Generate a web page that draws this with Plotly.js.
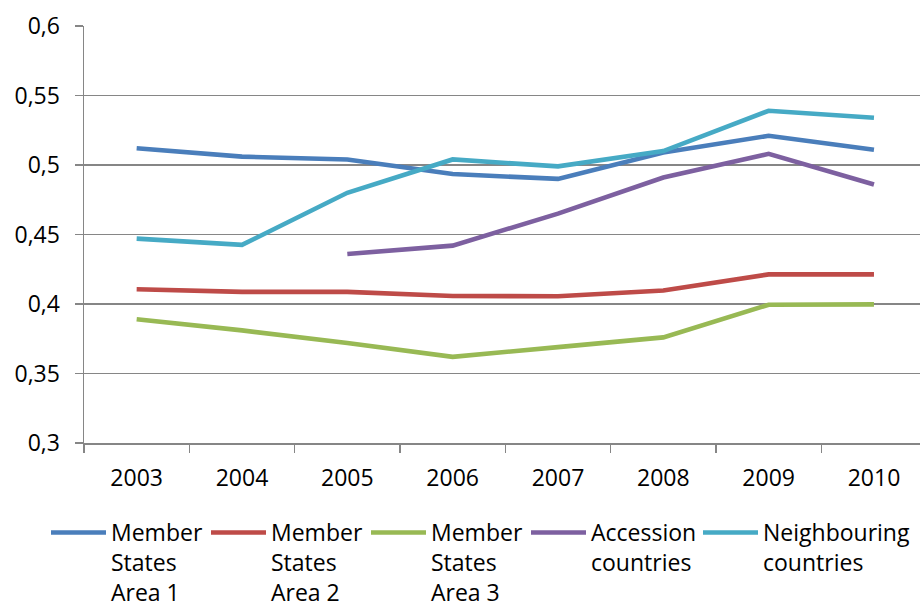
<!DOCTYPE html>
<html>
<head>
<meta charset="utf-8">
<script src="https://cdn.plot.ly/plotly-3.0.1.min.js"></script>
<style>
  html, body { margin: 0; padding: 0; background: #ffffff; overflow: hidden; }
  #chart { width: 920px; height: 607px; }
</style>
</head>
<body>
<div id="chart"></div>
<script>
// Years on the category axis
const years = ['2003', '2004', '2005', '2006', '2007', '2008', '2009', '2010'];

// Index values per group of countries
const memberStatesArea1 = [0.512, 0.506, 0.504, 0.4935, 0.490, 0.509, 0.521, 0.511];
const memberStatesArea2 = [0.4106, 0.4087, 0.4087, 0.4058, 0.4056, 0.4097, 0.4213, 0.4213];
const memberStatesArea3 = [0.389, 0.381, 0.372, 0.362, 0.369, 0.376, 0.3995, 0.3997];
const accessionCountries = [null, null, 0.436, 0.442, 0.465, 0.491, 0.508, 0.486];
const neighbouringCountries = [0.447, 0.4425, 0.480, 0.504, 0.499, 0.510, 0.539, 0.534];

// Series names and colours
const seriesNames = ['Member<br>States<br>Area 1', 'Member<br>States<br>Area 2', 'Member<br>States<br>Area 3',
                     'Accession<br>countries', 'Neighbouring<br>countries'];
const seriesColors = ['#4A7EBB', '#BE4B48', '#98B954', '#7D60A0', '#46AAC5'];

// Width reserved for each legend label
const legendTextWidths = [90, 90, 90, 102, 150];

// Value axis ticks
const yTickVals = [0.3, 0.35, 0.4, 0.45, 0.5, 0.55, 0.6];
const yTickText = ['0,3', '0,35', '0,4', '0,45', '0,5', '0,55', '0,6'];

const seriesValues = [memberStatesArea1, memberStatesArea2, memberStatesArea3,
                      accessionCountries, neighbouringCountries];

const traces = seriesValues.map((vals, i) => ({
  type: 'scatter',
  mode: 'lines',
  x: years,
  y: vals,
  name: seriesNames[i],
  legendwidth: legendTextWidths[i],
  connectgaps: false,
  line: { color: seriesColors[i], width: 4.6, shape: 'linear' },
  hoverinfo: 'x+y+name'
}));

const axisGray = '#868686';
const fontFamily = '"Open Sans", "Noto Sans", sans-serif';

// Plot area in pixels, used to place the legend below it
const plotLeft = 84, plotWidth = 836, plotBottom = 443, plotHeight = 417;

const layout = {
  width: 920,
  height: 607,
  margin: { l: plotLeft, r: 920 - plotLeft - plotWidth, t: plotBottom - plotHeight, b: 607 - plotBottom, pad: 0, autoexpand: false },
  paper_bgcolor: '#ffffff',
  plot_bgcolor: '#ffffff',
  font: { family: fontFamily, size: 23, color: '#000000' },
  showlegend: true,
  xaxis: {
    type: 'category',
    range: [-0.5, 7.437],
    tickson: 'boundaries',
    ticks: 'outside',
    ticklen: 8,
    tickwidth: 1.5,
    tickcolor: axisGray,
    ticklabelstandoff: 14,
    showline: true,
    linecolor: axisGray,
    linewidth: 1.5,
    showgrid: false,
    zeroline: false,
    tickfont: { family: fontFamily, size: 23, color: '#000000' },
    fixedrange: true
  },
  yaxis: {
    range: [0.3, 0.6],
    tickvals: yTickVals,
    ticktext: yTickText,
    ticks: 'outside',
    ticklen: 8,
    tickwidth: 1.5,
    tickcolor: axisGray,
    ticklabelstandoff: 10,
    showline: true,
    linecolor: axisGray,
    linewidth: 1.5,
    showgrid: true,
    gridcolor: axisGray,
    gridwidth: 1.5,
    zeroline: false,
    tickfont: { family: fontFamily, size: 23, color: '#000000' },
    fixedrange: true
  },
  legend: {
    orientation: 'h',
    xref: 'paper',
    yref: 'paper',
    x: (46 - plotLeft) / plotWidth,
    xanchor: 'left',
    y: (plotBottom - 511) / plotHeight,
    yanchor: 'top',
    itemwidth: 55,
    entrywidthmode: 'pixels',
    valign: 'top',
    traceorder: 'normal',
    font: { family: fontFamily, size: 23, color: '#000000' },
    bgcolor: 'rgba(0,0,0,0)',
    borderwidth: 0
  }
};

Plotly.newPlot('chart', traces, layout, { displayModeBar: false, staticPlot: true });
</script>
</body>
</html>
